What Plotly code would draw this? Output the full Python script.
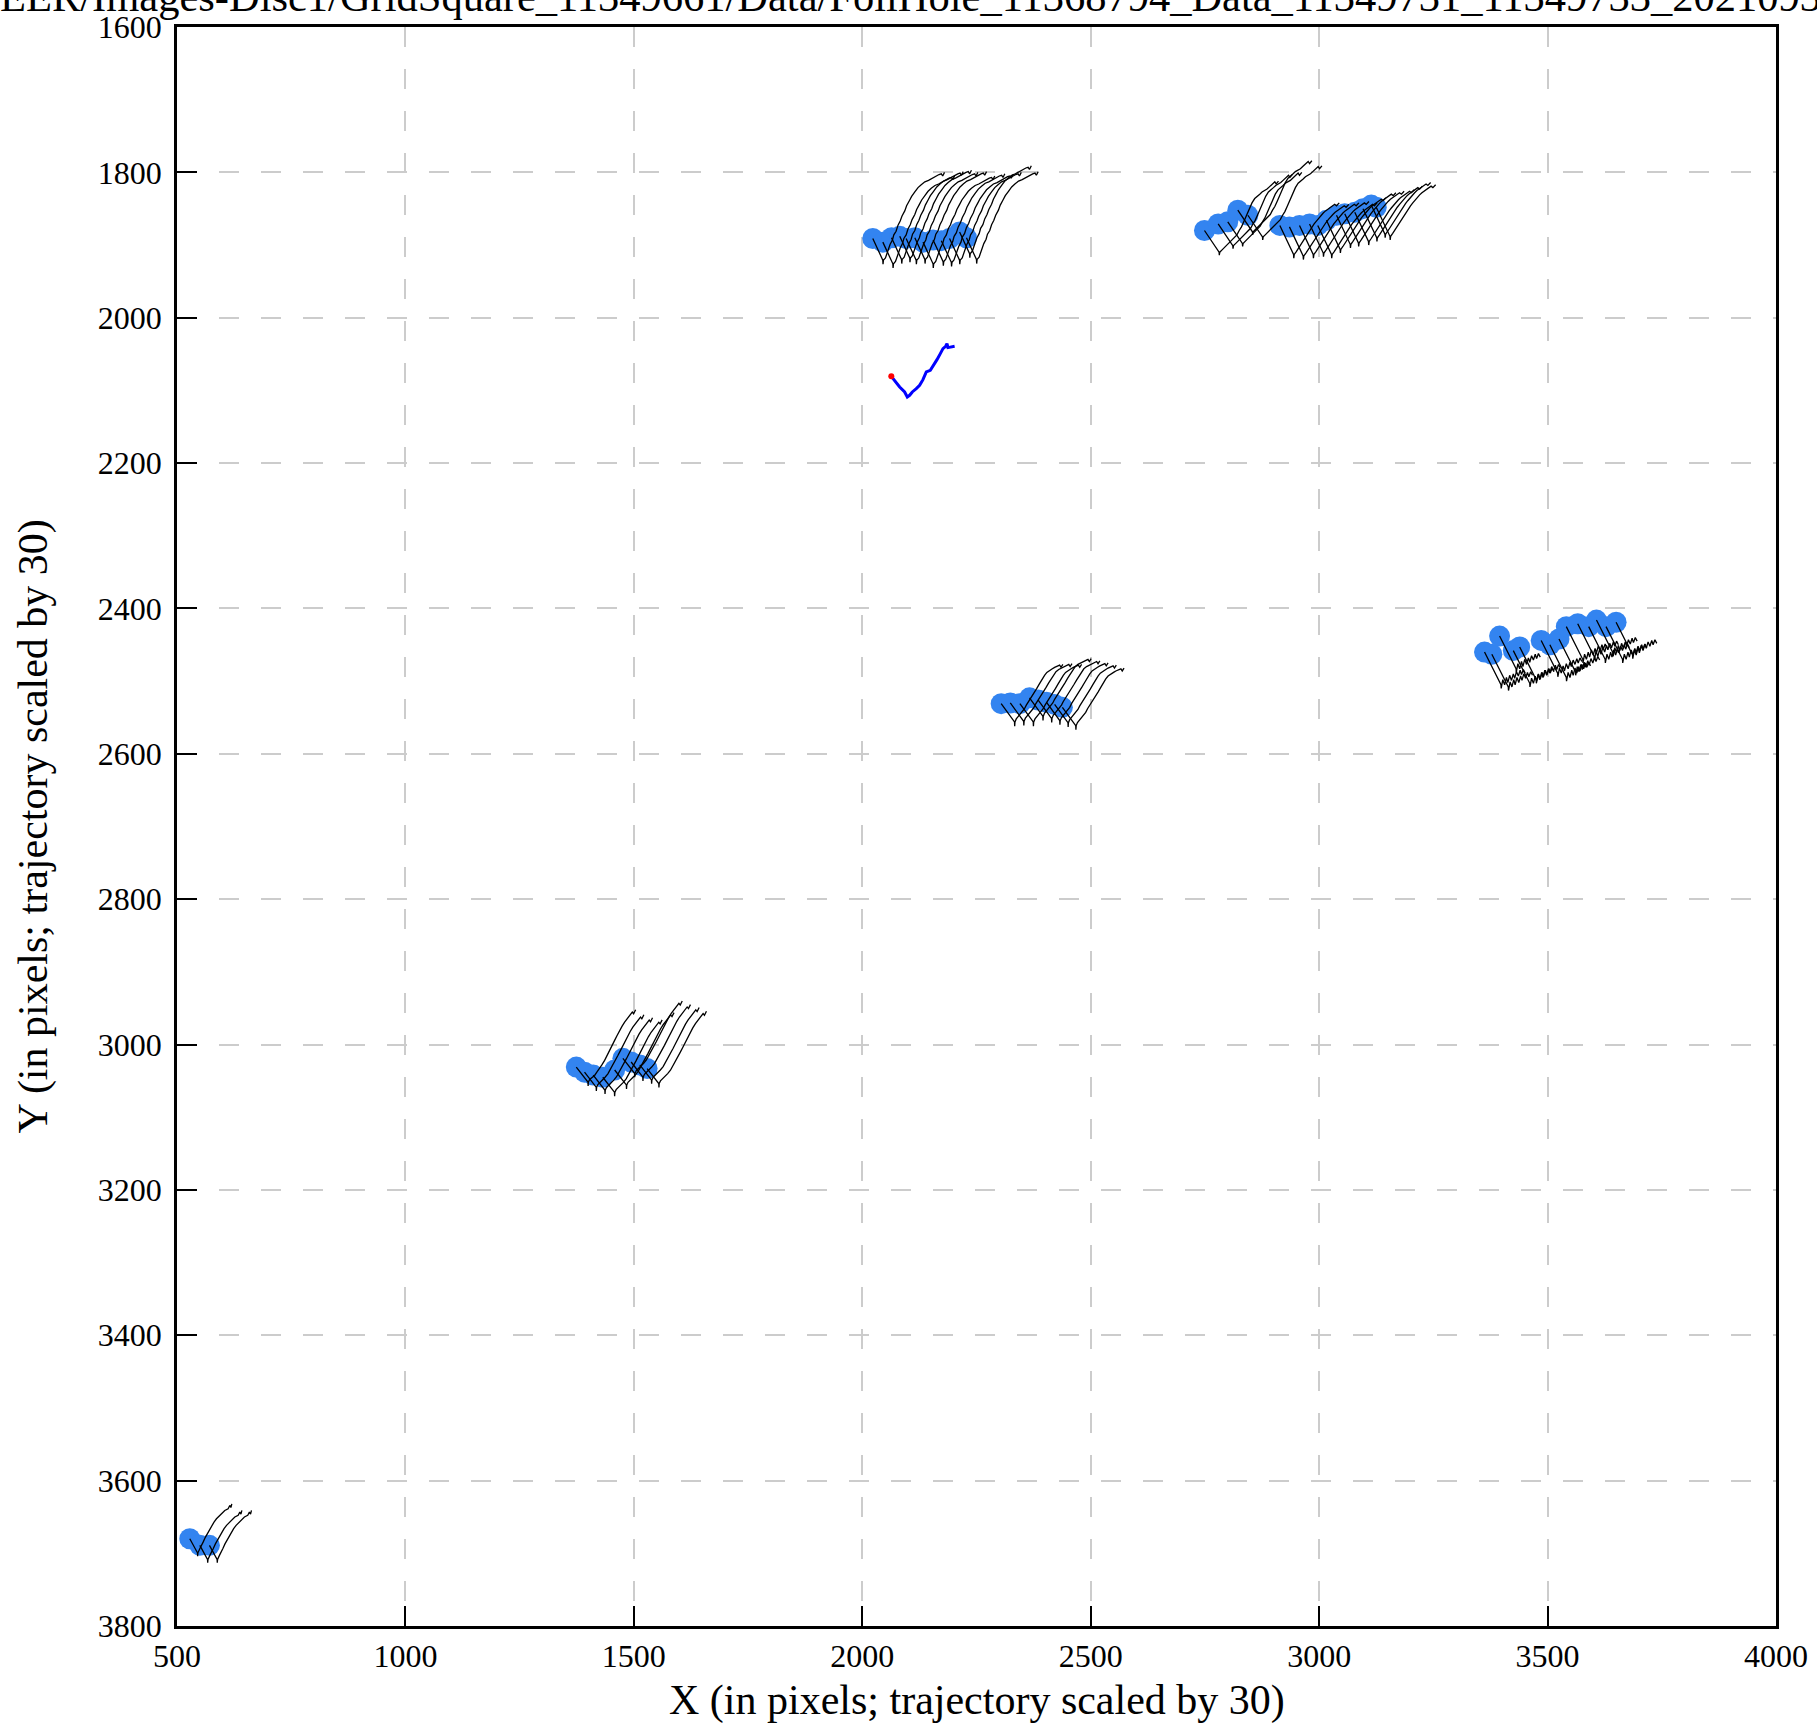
import plotly.graph_objects as go

# ---------------- data (data units) ----------------
# particle start positions per cluster
A_X = [2023, 2045, 2064, 2082, 2096, 2115, 2133, 2155, 2173, 2191, 2213, 2228]
A_Y = [1891, 1896, 1890, 1888, 1891, 1890, 1896, 1893, 1894, 1891, 1882, 1890]
B1_X = [2749, 2779, 2800, 2822, 2844]
B1_Y = [1880, 1871, 1868, 1852, 1859]
B2_X = [2914, 2935, 2957, 2979, 2997, 3016, 3038, 3056, 3078, 3096, 3114, 3125]
B2_Y = [1873, 1875, 1873, 1871, 1873, 1866, 1859, 1857, 1855, 1850, 1845, 1848]
C_X = [2304, 2324, 2345, 2366, 2385, 2403, 2421, 2438]
C_Y = [2531, 2530, 2531, 2523, 2526, 2529, 2532, 2536]
D_X = [3362, 3378, 3395, 3425, 3439, 3486, 3505, 3525, 3541, 3566, 3590, 3607, 3628, 3650]
D_Y = [2460, 2463, 2438, 2458, 2453, 2444, 2450, 2442, 2425, 2421, 2425, 2416, 2425, 2419]
E_X = [1374, 1392, 1411, 1432, 1458, 1476, 1494, 1513, 1529]
E_Y = [3031, 3038, 3042, 3045, 3035, 3019, 3024, 3028, 3033]
F_X = [528, 550, 571]
F_Y = [3680, 3689, 3689]

# scaled trajectory shapes (offsets from each particle's start), read per cluster
TA_DX = [0, 10.9, 21.9, 22.4, 23.3, 27.7, 31, 35, 38, 43, 46, 51, 55, 60, 64, 70, 74, 80, 85, 92, 99, 106, 114, 122, 130, 138, 145, 150, 153, 157]
TA_DY = [0, 14.7, 29.8, 35.5, 29.8, 26.6, 20, 15, 8, 2, -5, -10, -18, -24, -31, -38, -45, -52, -58, -64, -70, -74, -78, -80, -83, -85, -88, -89, -86, -91]
TB1_DX = [0, 16, 32, 32.5, 33.5, 38, 44, 49, 55, 60, 65, 71, 76, 81, 86, 90, 94, 99, 104, 110, 116, 121, 126, 132, 137, 142, 146, 150, 154, 157, 162]
TB1_DY = [0, 15, 29.8, 34, 29.8, 27, 23, 20, 16, 13, 9, 6, 0, -5, -12, -18, -25, -32, -38, -44, -48, -50, -53, -55, -57, -60, -62, -64, -67, -64, -68]
TB2_DX = [0, 15, 30, 30.5, 31.5, 36, 41, 45, 50, 55, 60, 65, 70, 75, 80, 85, 90, 95, 100, 105, 110, 115, 120, 124, 130]
TB2_DY = [0, 20, 40, 45, 40, 36, 31, 28, 22, 18, 12, 8, 3, -2, -6, -10, -14, -17, -20, -22, -24, -26, -29, -27, -31]
TC_DX = [0, 14.6, 29.2, 29.6, 30.2, 33, 37, 40, 45, 51, 55, 62, 66, 73, 78, 84, 89, 95, 100, 106, 112, 117, 122, 128, 131, 135]
TC_DY = [0, 12.8, 25.2, 31, 25.2, 21, 18, 16, 11, 7, 2, -4.6, -9, -16, -21, -27.5, -33, -39, -43, -46, -48, -50, -51, -53, -50, -54]
TD_DX = [0, 12, 24, 36, 36.5, 37.5, 40, 44, 48, 51, 55, 59, 63, 66, 70, 74, 78, 81, 85, 89]
TD_DY = [0, 15, 30, 45, 50, 45, 38, 45, 35, 42, 32, 39, 30, 36, 27, 33, 25, 31, 24, 29]
TE_DX = [0, 13.1, 25.5, 25.9, 26.5, 29.2, 34, 40.1, 45, 51.1, 56, 62, 67, 73, 78, 83.9, 89, 94.8, 100, 105.8, 111, 116.7, 122.6, 125.5, 129.9]
TE_DY = [0, 10.1, 20.6, 26, 20.6, 17, 14, 11.5, 7, 2.3, -3, -9.2, -15, -22.9, -29, -36.7, -43, -50.4, -56, -61.9, -66, -71.1, -75.7, -73.4, -78.9]
TF_DX = [0, 8.8, 16.8, 17.2, 17.8, 21.9, 25, 29.2, 34, 40.1, 44, 47.4, 53, 58.4, 64, 69.3, 76.6, 83.9, 87.5, 90, 92]
TF_DY = [0, 11, 19.3, 24, 19.3, 13.8, 9, 4.6, -2, -9.2, -14, -18.3, -23, -27.5, -31, -34.4, -39, -41.3, -45.9, -43, -48]

# global (blue) trajectory
G_X = [2063.5, 2070.8, 2081.8, 2092.7, 2098.5, 2103.6, 2109.5, 2118.2, 2125.5, 2132.8, 2140.1,
       2148.9, 2156.2, 2163.5, 2170.8, 2176.6, 2182.4, 2185.4, 2187.5, 2194.8, 2202.1]
G_Y = [2080.6, 2087.0, 2095.3, 2102.1, 2109.0, 2106.7, 2102.1, 2097.6, 2093.0, 2085.2, 2074.6,
       2072.3, 2065.5, 2057.7, 2049.4, 2042.5, 2039.3, 2035.6, 2041.1, 2040.2, 2039.3]

TITLE = "EER/Images-Disc1/GridSquare_11349661/Data/FoilHole_11368794_Data_11349731_11349733_20210930_104516_EER.eer"
X_TITLE = "X (in pixels; trajectory scaled by 30)"
Y_TITLE = "Y (in pixels; trajectory scaled by 30)"

clusters = [
    (A_X, A_Y, TA_DX, TA_DY),
    (B1_X, B1_Y, TB1_DX, TB1_DY),
    (B2_X, B2_Y, TB2_DX, TB2_DY),
    (C_X, C_Y, TC_DX, TC_DY),
    (D_X, D_Y, TD_DX, TD_DY),
    (E_X, E_Y, TE_DX, TE_DY),
    (F_X, F_Y, TF_DX, TF_DY),
]

dot_x, dot_y, line_x, line_y = [], [], [], []
for px, py, tdx, tdy in clusters:
    for x0, y0 in zip(px, py):
        dot_x.append(x0)
        dot_y.append(y0)
        line_x.extend([x0 + d for d in tdx] + [None])
        line_y.extend([y0 + d for d in tdy] + [None])

FONT = "Liberation Serif, Times New Roman, serif"

fig = go.Figure()
fig.add_trace(go.Scatter(x=dot_x, y=dot_y, mode="markers",
                         marker=dict(size=21, color="#3384f0", line=dict(width=0)),
                         hoverinfo="skip"))
fig.add_trace(go.Scatter(x=line_x, y=line_y, mode="lines",
                         line=dict(color="black", width=1.3), hoverinfo="skip"))
fig.add_trace(go.Scatter(x=G_X, y=G_Y, mode="lines",
                         line=dict(color="#0000ff", width=3), hoverinfo="skip"))
fig.add_trace(go.Scatter(x=G_X[:1], y=G_Y[:1], mode="markers",
                         marker=dict(size=6, color="#ff0000"), hoverinfo="skip"))

axis_common = dict(
    ticks="inside", ticklen=20, tickwidth=2, tickcolor="black",
    showline=True, linecolor="black", linewidth=2.5, mirror=True,
    showgrid=True, gridcolor="#cccccc", gridwidth=2, griddash="20px,22px",
    zeroline=False, automargin=False,
    tickfont=dict(family=FONT, size=32, color="black"),
)
fig.update_xaxes(range=[500, 4000], tick0=500, dtick=500, **axis_common)
fig.update_yaxes(range=[3800, 1600], tick0=1600, dtick=200, ticklabelstandoff=6, **axis_common)

fig.update_layout(
    width=1817, height=1727,
    margin=dict(l=177, r=41, t=27, b=101),
    paper_bgcolor="white", plot_bgcolor="white",
    showlegend=False,
    annotations=[
        dict(text=TITLE, xref="paper", yref="paper", x=-0.112, y=1.003,
             xanchor="left", yanchor="bottom", showarrow=False,
             font=dict(family=FONT, size=42.5, color="black")),
        dict(text=X_TITLE, xref="paper", yref="paper", x=0.5, y=-0.0463,
             xanchor="center", yanchor="middle", showarrow=False,
             font=dict(family=FONT, size=42, color="black")),
        dict(text=Y_TITLE, xref="paper", yref="paper", x=-0.0895, y=0.5,
             xanchor="center", yanchor="middle", textangle=-90, showarrow=False,
             font=dict(family=FONT, size=42, color="black")),
    ],
)

fig.write_html("out.html", config={"displayModeBar": False},
               post_script="document.body.style.margin='0';")
